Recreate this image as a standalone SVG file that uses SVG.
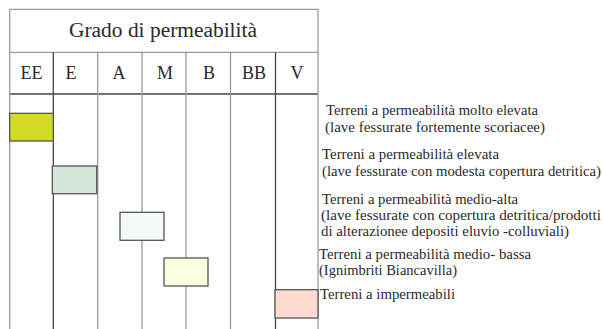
<svg xmlns="http://www.w3.org/2000/svg" width="603" height="329" viewBox="0 0 603 329">
<style>
.g{stroke:#9a9a9a;stroke-width:1.3;fill:none}
.d{stroke:#444;stroke-width:1.3;fill:none}
.box{stroke:#555;stroke-width:1.3}
text{fill:#2a2a2a}
.h{font-size:20px;text-anchor:middle}
.c{font-size:18px;text-anchor:middle}
.l{font-size:14px}
</style>
<rect width="603" height="329" fill="#fff"/>
<g id="grid">
<line class="g" x1="9.7" y1="9.3" x2="318" y2="9.3"/>
<line class="g" x1="9.7" y1="52.3" x2="318" y2="52.3"/>
<line class="d" x1="9.7" y1="94" x2="318" y2="94"/>
<line class="g" x1="9.7" y1="9.3" x2="9.7" y2="329"/>
<line class="g" x1="318" y1="9.3" x2="318" y2="329"/>
<line class="d" x1="53.3" y1="52.3" x2="53.3" y2="329"/>
<line class="g" x1="97.7" y1="52.3" x2="97.7" y2="329"/>
<line class="g" x1="142" y1="52.3" x2="142" y2="329"/>
<line class="g" x1="186" y1="52.3" x2="186" y2="329"/>
<line class="g" x1="230.5" y1="52.3" x2="230.5" y2="329"/>
<line class="d" x1="275.5" y1="52.3" x2="275.5" y2="329"/>
</g>
<g id="header" font-family="'Liberation Serif', 'DejaVu Serif', serif">
<text class="h" x="163" y="37" textLength="188" lengthAdjust="spacingAndGlyphs">Grado di permeabilità</text>
<text class="c" x="31.5" y="79">EE</text>
<text class="c" x="71" y="79">E</text>
<text class="c" x="119" y="79">A</text>
<text class="c" x="165" y="79">M</text>
<text class="c" x="209" y="79">B</text>
<text class="c" x="254" y="79">BB</text>
<text class="c" x="297" y="79">V</text>
</g>
<g id="EE" font-family="'Liberation Serif', 'DejaVu Serif', serif">
<rect class="box" x="9.7" y="113.3" width="43.6" height="27.7" fill="#d3da26"/>
<text class="l" x="326" y="115" textLength="212" lengthAdjust="spacingAndGlyphs">Terreni a permeabilità molto elevata</text>
<text class="l" x="325" y="132" textLength="220" lengthAdjust="spacingAndGlyphs">(lave fessurate fortemente scoriacee)</text>
</g>
<g id="E" font-family="'Liberation Serif', 'DejaVu Serif', serif">
<rect class="box" x="52.3" y="166" width="44.4" height="27.7" fill="#d6e5da"/>
<text class="l" x="322" y="159" textLength="177" lengthAdjust="spacingAndGlyphs">Terreni a permeabilità elevata</text>
<text class="l" x="322" y="176" textLength="279" lengthAdjust="spacingAndGlyphs">(lave fessurate con modesta copertura detritica)</text>
</g>
<g id="A" font-family="'Liberation Serif', 'DejaVu Serif', serif">
<rect class="box" x="120" y="212.3" width="44" height="28" fill="#f4fafa"/>
<text class="l" x="322" y="204" textLength="196" lengthAdjust="spacingAndGlyphs">Terreni a permeabilità medio-alta</text>
<text class="l" x="321" y="220" textLength="280" lengthAdjust="spacingAndGlyphs">(lave fessurate con copertura detritica/prodotti</text>
<text class="l" x="321" y="236" textLength="248" lengthAdjust="spacingAndGlyphs">di alterazionee depositi eluvio -colluviali)</text>
</g>
<g id="M" font-family="'Liberation Serif', 'DejaVu Serif', serif">
<rect class="box" x="164" y="258" width="44" height="28" fill="#fdfde0"/>
<text class="l" x="319" y="259" textLength="212" lengthAdjust="spacingAndGlyphs">Terreni a permeabilità medio- bassa</text>
<text class="l" x="319" y="275" textLength="138" lengthAdjust="spacingAndGlyphs">(Ignimbriti Biancavilla)</text>
</g>
<g id="V" font-family="'Liberation Serif', 'DejaVu Serif', serif">
<rect class="box" x="275" y="289.7" width="43" height="28.3" fill="#fedbd0"/>
<text class="l" x="320" y="299" textLength="135" lengthAdjust="spacingAndGlyphs">Terreni a impermeabili</text>
</g>
</svg>
